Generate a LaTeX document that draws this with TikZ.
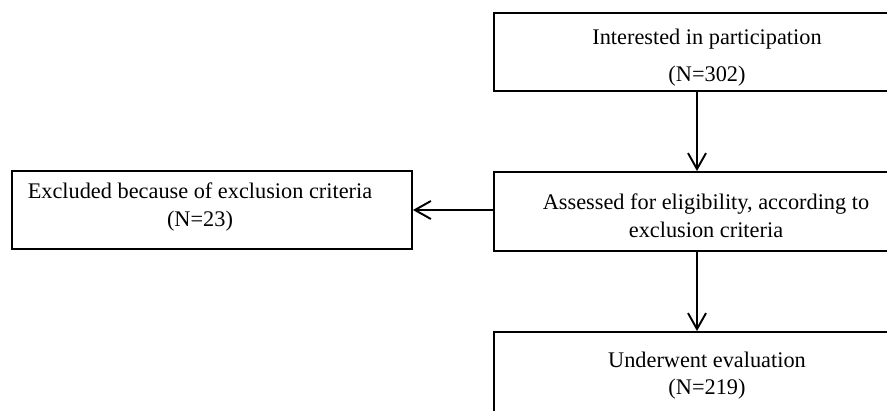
\documentclass[tikz,border=0pt]{standalone}
\usepackage{fontspec}
\setmainfont{Liberation Serif}
\usetikzlibrary{arrows.meta}
\tikzset{
  box/.style={draw, line width=1.1pt, inner sep=0pt},
  txt/.style={align=center, inner sep=0pt, font=\fontsize{12.7}{#1}\selectfont},
  arr/.style={-{Straight Barb[length=3.2mm,width=3.6mm]}, line width=1.1pt}
}
\begin{document}
\begin{tikzpicture}[x=0.02cm,y=-0.02cm]
\useasboundingbox (0,0) rectangle (887,410);
\clip (0,0) rectangle (887,410);
% boxes
\node[box, minimum width=8.52cm, minimum height=1.56cm] (top) at (707,52) {};
\node[box, minimum width=8.52cm, minimum height=1.58cm] (mid) at (707,211.5) {};
\node[box, minimum width=8cm, minimum height=1.56cm] (excl) at (212,210) {};
\node[box, minimum width=8.52cm, minimum height=2cm] (under) at (707,382) {};
% texts
\node[txt=21.5] (toptxt) at (707,57.7) {Interested in participation\\(N=302)};
\node[txt=15.9] (midtxt) at (706,215.5) {Assessed for eligibility, according to\\exclusion criteria};
\node[txt=16.4] (excltxt) at (200,207) {Excluded because of exclusion criteria\\(N=23)};
\node[txt=15.3] (undertxt) at (707,376) {Underwent evaluation\\(N=219)};
% arrows
\coordinate (ax) at (697,0);
\draw[arr] (top.south -| ax) -- (mid.north -| ax);
\draw[arr] (mid.south -| ax) -- (under.north -| ax);
\draw[arr] (mid.west |- excl.east) -- (excl.east);
\end{tikzpicture}
\end{document}
